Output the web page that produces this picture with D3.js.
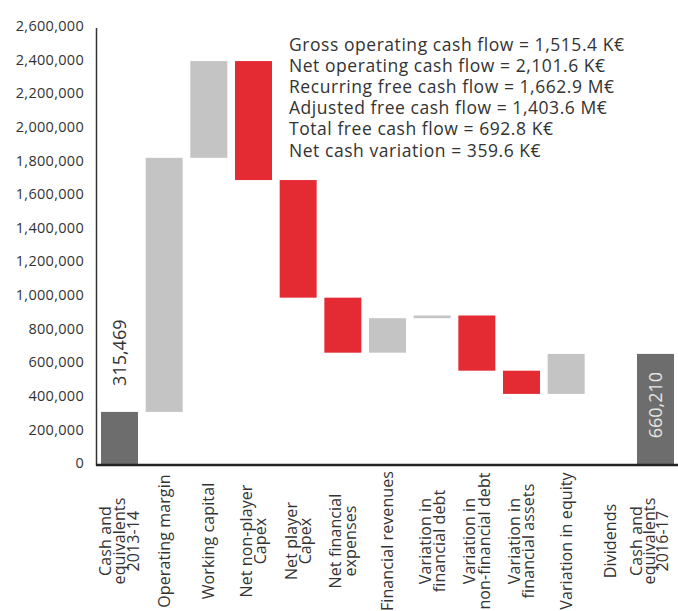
<!DOCTYPE html>
<html>
<head>
<meta charset="utf-8">
<script src="https://cdn.jsdelivr.net/npm/d3@7"></script>
<style>
  html, body { margin: 0; padding: 0; background: #fff; }
  svg { display: block; font-family: "Open Sans", "Noto Sans", sans-serif; }
</style>
</head>
<body>
<svg id="chart" width="678" height="611"></svg>
<script>
// Cash-flow bridge, 2013-14 to 2016-17
const categories = [
  ["Cash and", "equivalents", "2013-14"],
  ["Operating margin"],
  ["Working capital"],
  ["Net non-player", "Capex"],
  ["Net player", "Capex"],
  ["Net financial", "expenses"],
  ["Financial revenues"],
  ["Variation in", "financial debt"],
  ["Variation in", "non-financial debt"],
  ["Variation in", "financial assets"],
  ["Variation in equity"],
  ["Dividends"],
  ["Cash and", "equivalents", "2016-17"]
];
// "total" steps are absolute balances, the others are changes
const stepKind = ["total", "change", "change", "change", "change", "change", "change",
                  "change", "change", "change", "change", "change", "total"];
const stepValues = [315469, 1510000, 575000, -707000, -699000, -327000, 205000,
                    16000, -328000, -138000, 237741, 0, 660210];
const yTicks = [0, 200000, 400000, 600000, 800000, 1000000, 1200000, 1400000,
                1600000, 1800000, 2000000, 2200000, 2400000, 2600000];
const notes = [
  "Gross operating cash flow = 1,515.4 K€",
  "Net operating cash flow = 2,101.6 K€",
  "Recurring free cash flow = 1,662.9 M€",
  "Adjusted free cash flow = 1,403.6 M€",
  "Total free cash flow = 692.8 K€",
  "Net cash variation = 359.6 K€"
];

// running balance -> floating segments
let running = 0;
const steps = stepValues.map((v, i) => {
  let lo, hi;
  if (stepKind[i] === "total") { lo = 0; hi = v; running = v; }
  else { const next = running + v; lo = Math.min(running, next); hi = Math.max(running, next); running = next; }
  return { i, value: v, kind: stepKind[i], lo, hi };
});

const W = 678;
const svg = d3.select("#chart");
const x0 = 96, yZero = 465;
const font = "'Open Sans', sans-serif";
const ink = "#333";

const x = d3.scaleBand()
  .domain(d3.range(categories.length))
  .range([97, W])
  .paddingInner(0.172)
  .paddingOuter(0.09);

const y = d3.scaleLinear().domain([0, 2600000]).range([yZero, 27.5]);

const colour = d => d.kind === "total" ? "#6d6d6d" : (d.value >= 0 ? "#c4c4c4" : "#e42a33");

// bars
svg.append("g").selectAll("rect")
  .data(steps.filter(d => d.hi !== d.lo))
  .join("rect")
  .attr("x", d => x(d.i))
  .attr("width", x.bandwidth())
  .attr("y", d => y(d.hi))
  .attr("height", d => y(d.lo) - y(d.hi))
  .attr("fill", colour);

// y axis
const yAxis = svg.append("g")
  .attr("transform", `translate(${x0},0)`)
  .call(d3.axisLeft(y).tickValues(yTicks).tickSize(0).tickPadding(12).tickFormat(d3.format(",")));
yAxis.select(".domain").attr("stroke", "#333").attr("stroke-width", 1.5);
yAxis.selectAll("text")
  .attr("font-size", 14.5).attr("fill", ink).attr("font-family", font)
  .attr("letter-spacing", 0.3)
  .attr("dy", "0.2em");

// x axis with rotated, multi-line labels
const xAxis = svg.append("g")
  .attr("transform", `translate(0,${yZero})`)
  .call(d3.axisBottom(x).tickSize(0).tickFormat(""));
xAxis.select(".domain")
  .attr("d", `M${x0},0H${W}`)
  .attr("stroke", "#222").attr("stroke-width", 2.5);
const labelSize = 16;
xAxis.selectAll(".tick").each(function(d) {
  const lines = categories[d];
  const cx = x(d) + x.bandwidth() / 2;
  // tighten and pull back the line stack when it would run past the right edge
  let lh = 14.3, shift = 0;
  const half = (lines.length - 1) / 2 * lh + 0.6 * labelSize;
  if (cx + half > W - 2) { lh = 13; shift = -6.1; }
  const t = d3.select(this).append("text")
    .attr("transform", "rotate(-90)")
    .attr("text-anchor", "middle")
    .attr("fill", ink)
    .attr("font-size", labelSize)
    .attr("letter-spacing", 0.1)
    .attr("font-family", font);
  lines.forEach((line, k) => {
    t.append("tspan")
      .attr("x", -76)
      .attr("y", (k - (lines.length - 1) / 2) * lh + shift)
      .attr("dy", "0.35em")
      .text(line);
  });
});

// value labels on the balance bars
const fmt = d3.format(",");
const first = steps[0], last = steps[steps.length - 1];
svg.append("text")
  .attr("transform", `translate(${x(first.i) + x.bandwidth() / 2},${y(first.hi) - 26}) rotate(-90)`)
  .attr("dy", "0.35em")
  .attr("text-anchor", "start")
  .attr("font-size", 18)
  .attr("font-family", font)
  .attr("fill", ink)
  .text(fmt(first.value));
svg.append("text")
  .attr("transform", `translate(${x(last.i) + x.bandwidth() / 2},${y(last.hi) + 18}) rotate(-90)`)
  .attr("dy", "0.35em")
  .attr("text-anchor", "end")
  .attr("font-size", 18)
  .attr("font-family", font)
  .attr("fill", "#e6e6e6")
  .text(fmt(last.value));

// summary notes
svg.append("g").selectAll("text")
  .data(notes)
  .join("text")
  .attr("x", 289)
  .attr("y", (d, i) => 51 + i * 21.1)
  .attr("font-size", 17.5)
  .attr("letter-spacing", 0.55)
  .attr("font-family", font)
  .attr("fill", ink)
  .text(d => d);
</script>
</body>
</html>
